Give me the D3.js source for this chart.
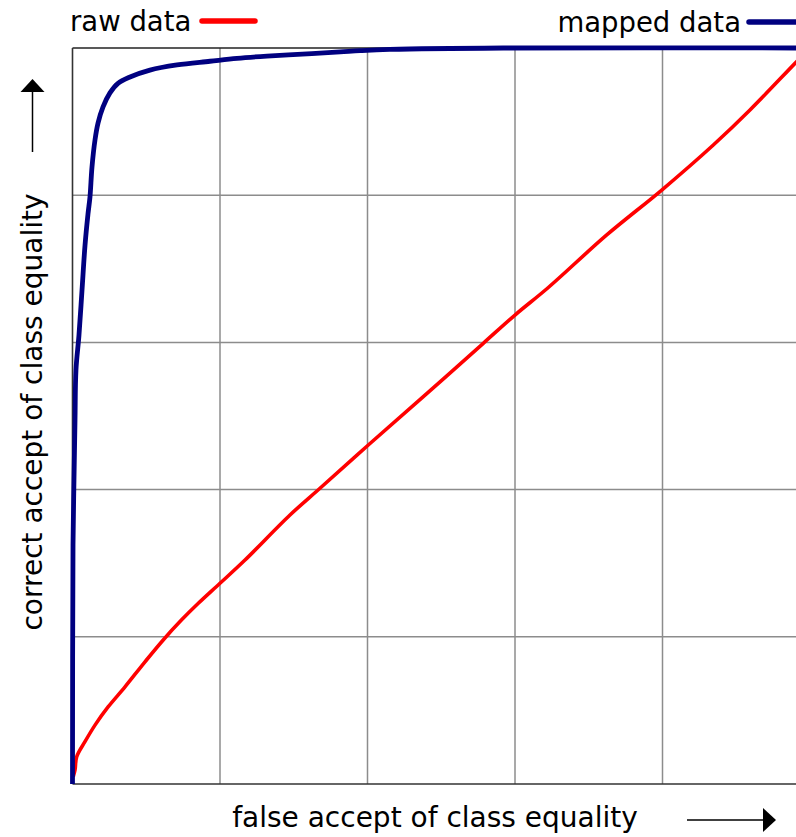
<!DOCTYPE html>
<html><head><meta charset="utf-8">
<script src="https://cdn.jsdelivr.net/npm/d3@7"></script>
<style>html,body{margin:0;padding:0;background:#fff;}svg{display:block;}</style>
</head><body>
<svg id="c" width="796" height="837"></svg>
<script>
// false accept rate (x) and correct accept rate (y)
const rawFAR = [0.001,0.0034,0.0057,0.0169,0.0305,0.0485,0.0712,0.0983,0.123,0.148,0.1706,0.2,0.2339,0.2949,0.3356,0.4011,0.4757,0.557,0.6,0.6452,0.7244,0.799,0.8689,0.9186,0.9797,1.0];
const rawCAR = [0.010,0.019,0.037,0.0575,0.080,0.105,0.132,0.166,0.1957,0.223,0.2455,0.2727,0.3043,0.3655,0.4018,0.4606,0.5262,0.5988,0.6372,0.6746,0.746,0.807,0.8682,0.9158,0.9792,1.0];
const mappedFAR = [0,0.0007,0.002,0.0034,0.0047,0.0088,0.0129,0.017,0.021,0.0237,0.0264,0.0305,0.0346,0.0414,0.0508,0.0617,0.078,0.105,0.1417,0.1864,0.223,0.2637,0.318,0.363,0.39,0.43,0.584,1.0];
const mappedCAR = [0,0.3247,0.413,0.4946,0.5625,0.610,0.671,0.7323,0.7745,0.7976,0.838,0.875,0.898,0.920,0.939,0.952,0.9606,0.970,0.977,0.982,0.986,0.989,0.992,0.9946,0.9963,0.998,1.0,1.0];
const gridTicks = [0.2,0.4,0.6,0.8];
const seriesNames = ["raw data","mapped data"];
const xLabel = "false accept of class equality";
const yLabel = "correct accept of class equality";

const svg = d3.select("#c");
const x = d3.scaleLinear().domain([0,1]).range([72.5,810]);
const y = d3.scaleLinear().domain([0,1]).range([784,48]);
const font = "'DejaVu Sans', Verdana, sans-serif";

// grid
const g = svg.append("g");
g.selectAll("line.vx").data(gridTicks).join("line")
  .attr("x1",d=>x(d)).attr("x2",d=>x(d)).attr("y1",y(0)).attr("y2",y(1))
  .attr("stroke","#8c8c8c").attr("stroke-width",1.5);
g.selectAll("line.hy").data(gridTicks).join("line")
  .attr("y1",d=>y(d)).attr("y2",d=>y(d)).attr("x1",x(0)).attr("x2",x(1))
  .attr("stroke","#8c8c8c").attr("stroke-width",1.5);
// frame
svg.append("line").attr("x1",x(0)).attr("x2",x(1)).attr("y1",y(1)).attr("y2",y(1)).attr("stroke","#222").attr("stroke-width",1.3);
svg.append("line").attr("x1",x(0)).attr("x2",x(1)).attr("y1",y(0)).attr("y2",y(0)).attr("stroke","#333").attr("stroke-width",1.6);
svg.append("line").attr("x1",x(0)).attr("x2",x(0)).attr("y1",y(0)).attr("y2",y(1)).attr("stroke","#333").attr("stroke-width",1.6);

const line = d3.line().x(d=>x(d[0])).y(d=>y(d[1])).curve(d3.curveCatmullRom.alpha(0.5));
svg.append("path").datum(d3.zip(rawFAR,rawCAR)).attr("d",line)
  .attr("fill","none").attr("stroke","#ff0000").attr("stroke-width",3.6).attr("stroke-linejoin","round");
svg.append("path").datum(d3.zip(mappedFAR,mappedCAR)).attr("d",line)
  .attr("fill","none").attr("stroke","#000080").attr("stroke-width",4.8).attr("stroke-linejoin","round");

// legend
svg.append("text").attr("x",70).attr("y",31).attr("font-family",font).attr("font-size",27.5).attr("fill","#000").text(seriesNames[0]);
svg.append("line").attr("x1",202).attr("x2",255).attr("y1",21).attr("y2",21).attr("stroke","#ff0000").attr("stroke-width",5.5).attr("stroke-linecap","round");
svg.append("text").attr("x",741).attr("y",32).attr("text-anchor","end").attr("font-family",font).attr("font-size",27.5).attr("fill","#000").text(seriesNames[1]);
svg.append("line").attr("x1",749).attr("x2",810).attr("y1",22).attr("y2",22).attr("stroke","#000080").attr("stroke-width",5.5).attr("stroke-linecap","round");

// axis labels
svg.append("text").attr("x",435).attr("y",827).attr("text-anchor","middle").attr("font-family",font).attr("font-size",28).attr("fill","#000").text(xLabel);
svg.append("text").attr("transform","translate(42,412) rotate(-90)").attr("text-anchor","middle").attr("font-family",font).attr("font-size",28).attr("fill","#000").text(yLabel);

// arrows
svg.append("line").attr("x1",687).attr("x2",765).attr("y1",820).attr("y2",820).attr("stroke","#000").attr("stroke-width",1.5);
svg.append("path").attr("d","M763,808 L776,820 L763,832 Z").attr("fill","#000");
svg.append("line").attr("x1",32.5).attr("x2",32.5).attr("y1",152).attr("y2",90).attr("stroke","#000").attr("stroke-width",1.5);
svg.append("path").attr("d","M20.5,92 L32.5,79 L44.5,92 Z").attr("fill","#000");
</script>
</body></html>
